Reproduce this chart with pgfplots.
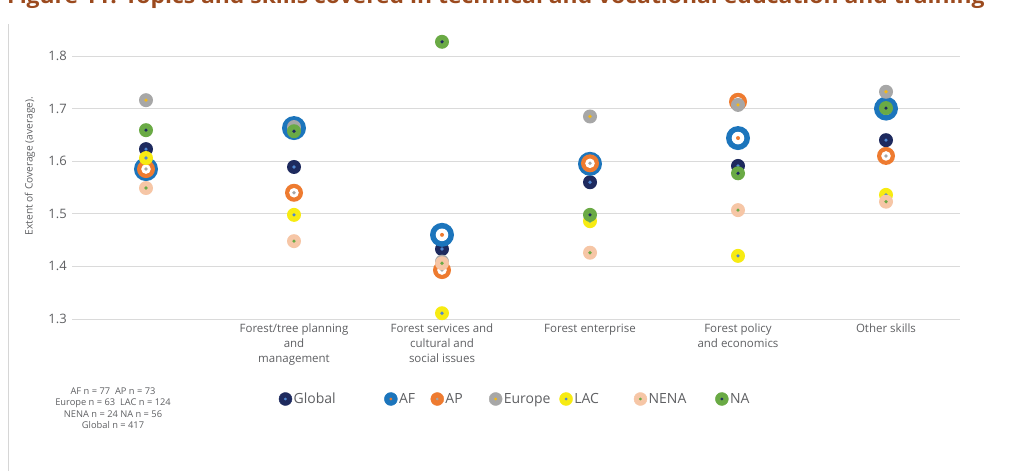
\documentclass[border=0pt]{standalone}
\usepackage{pgfplots}
\pgfplotsset{compat=1.18}
\usepackage{fontspec}
\setmainfont{Open Sans}
\definecolor{cGlobal}{HTML}{1E2A5E}
\definecolor{cAF}{HTML}{1C75BC}
\definecolor{cAP}{HTML}{EE7B30}
\definecolor{cEurope}{HTML}{A7A7A7}
\definecolor{cLAC}{HTML}{F7EB12}
\definecolor{cNENA}{HTML}{F6C6A6}
\definecolor{cNA}{HTML}{6AAA45}
\definecolor{dBlue}{HTML}{4F86D0}
\definecolor{dYellow}{HTML}{F5B914}
\definecolor{gridc}{HTML}{DADADA}
\definecolor{txtc}{HTML}{5E5F62}
\definecolor{titlec}{HTML}{9B4A1E}
\definecolor{bordc}{HTML}{D6D6D6}

\pgfdeclareplotmark{mGlobal}{%
  \pgfpathcircle{\pgfpointorigin}{7pt}\pgfsetfillcolor{cGlobal}\pgfusepathqfill
  \pgfpathcircle{\pgfpointorigin}{1.8pt}\pgfsetfillcolor{dBlue}\pgfusepathqfill}
\pgfdeclareplotmark{mAF}{%
  \pgfpathcircle{\pgfpointorigin}{12pt}\pgfsetfillcolor{cAF}\pgfusepathqfill
  \pgfpathcircle{\pgfpointorigin}{6.3pt}\pgfsetfillcolor{white}\pgfusepathqfill
  \pgfpathcircle{\pgfpointorigin}{2pt}\pgfsetfillcolor{cAP}\pgfusepathqfill}
\pgfdeclareplotmark{mAP}{%
  \pgfpathcircle{\pgfpointorigin}{9pt}\pgfsetfillcolor{cAP}\pgfusepathqfill
  \pgfpathcircle{\pgfpointorigin}{4.8pt}\pgfsetfillcolor{white}\pgfusepathqfill
  \pgfpathcircle{\pgfpointorigin}{1.9pt}\pgfsetfillcolor{cEurope}\pgfusepathqfill}
\pgfdeclareplotmark{mEurope}{%
  \pgfpathcircle{\pgfpointorigin}{7pt}\pgfsetfillcolor{cEurope}\pgfusepathqfill
  \pgfpathcircle{\pgfpointorigin}{1.8pt}\pgfsetfillcolor{dYellow}\pgfusepathqfill}
\pgfdeclareplotmark{mLAC}{%
  \pgfpathcircle{\pgfpointorigin}{7pt}\pgfsetfillcolor{cLAC}\pgfusepathqfill
  \pgfpathcircle{\pgfpointorigin}{1.8pt}\pgfsetfillcolor{dBlue}\pgfusepathqfill}
\pgfdeclareplotmark{mNENA}{%
  \pgfpathcircle{\pgfpointorigin}{7pt}\pgfsetfillcolor{cNENA}\pgfusepathqfill
  \pgfpathcircle{\pgfpointorigin}{1.8pt}\pgfsetfillcolor{cNA}\pgfusepathqfill}
\pgfdeclareplotmark{mNA}{%
  \pgfpathcircle{\pgfpointorigin}{7pt}\pgfsetfillcolor{cNA}\pgfusepathqfill
  \pgfpathcircle{\pgfpointorigin}{1.8pt}\pgfsetfillcolor{cGlobal}\pgfusepathqfill}

\begin{document}
\begin{tikzpicture}
\begin{axis}[
  at={(72pt,152pt)}, anchor=south west,
  scale only axis, width=888pt, height=263pt,
  xmin=-0.5, xmax=5.5, ymin=1.3, ymax=1.8,
  clip=false,
  axis lines=left, axis line style={draw=none},
  major tick length=0pt,
  ytick={1.3,1.4,1.5,1.6,1.7,1.8},
  yticklabels={1.3,1.4,1.5,1.6,1.7,1.8},
  yticklabel style={font=\fontsize{13}{15}\selectfont, text=txtc, anchor=east, inner sep=0pt, xshift=-5pt},
  ymajorgrids, grid style={draw=gridc, line width=0.9pt},
  xtick={0,1,2,3,4,5},
  xticklabels={{}, {Forest/tree planning\\and\\management}, {Forest services and\\cultural and\\social issues}, {Forest enterprise}, {Forest policy\\and economics}, {Other skills}},
  xticklabel style={font=\fontsize{11.5}{15}\selectfont, text=txtc, align=center, anchor=north, inner sep=0pt, yshift=-5pt},
  legend columns=7,
  legend style={draw=none, fill=none, at={(axis description cs:0.2326,-0.3042)}, anchor=west,
    inner sep=0pt, column sep=1.5pt, font=\fontsize{14}{17}\selectfont, text=txtc,
    nodes={inner sep=0pt}, cells={anchor=west}},
]
\addplot[only marks, mark=mGlobal, legend image code/.code={\fill[cGlobal] (0pt,0pt) circle (6.5pt); \fill[dBlue] (0pt,0pt) circle (1.2pt);}]
  table[row sep=\\]{x y\\ 0 1.623\\ 1 1.589\\ 2 1.433\\ 3 1.560\\ 4 1.591\\ 5 1.640\\};
\addlegendentry{\makebox[89pt][l]{Global}}
\addplot[only marks, mark=mAF, legend image code/.code={\fill[cAF] (0pt,0pt) circle (6.5pt); \fill[cAP] (0pt,0pt) circle (1.2pt);}]
  table[row sep=\\]{x y\\ 0 1.585\\ 1 1.663\\ 2 1.460\\ 3 1.595\\ 4 1.644\\ 5 1.700\\};
\addlegendentry{\makebox[30pt][l]{AF}}
\addplot[only marks, mark=mAP, legend image code/.code={\fill[cAP] (0pt,0pt) circle (6.5pt); \fill[cEurope] (0pt,0pt) circle (1.2pt);}]
  table[row sep=\\]{x y\\ 0 1.585\\ 1 1.540\\ 2 1.393\\ 3 1.596\\ 4 1.713\\ 5 1.610\\};
\addlegendentry{\makebox[42pt][l]{AP}}
\addplot[only marks, mark=mEurope, legend image code/.code={\fill[cEurope] (0pt,0pt) circle (6.5pt); \fill[dYellow] (0pt,0pt) circle (1.2pt);}]
  table[row sep=\\]{x y\\ 0 1.716\\ 1 1.665\\ 2 1.409\\ 3 1.685\\ 4 1.707\\ 5 1.732\\};
\addlegendentry{\makebox[54pt][l]{Europe}}
\addplot[only marks, mark=mLAC, legend image code/.code={\fill[cLAC] (0pt,0pt) circle (6.5pt); \fill[dBlue] (0pt,0pt) circle (1.2pt);}]
  table[row sep=\\]{x y\\ 0 1.606\\ 1 1.498\\ 2 1.311\\ 3 1.486\\ 4 1.420\\ 5 1.536\\};
\addlegendentry{\makebox[58pt][l]{LAC}}
\addplot[only marks, mark=mNENA, legend image code/.code={\fill[cNENA] (0pt,0pt) circle (6.5pt); \fill[cNA] (0pt,0pt) circle (1.2pt);}]
  table[row sep=\\]{x y\\ 0 1.549\\ 1 1.448\\ 2 1.406\\ 3 1.426\\ 4 1.507\\ 5 1.523\\};
\addlegendentry{\makebox[65pt][l]{NENA}}
\addplot[only marks, mark=mNA, legend image code/.code={\fill[cNA] (0pt,0pt) circle (6.5pt); \fill[cGlobal] (0pt,0pt) circle (1.2pt);}]
  table[row sep=\\]{x y\\ 0 1.659\\ 1 1.657\\ 2 1.827\\ 3 1.498\\ 4 1.577\\ 5 1.701\\};
\addlegendentry{\makebox[30pt][l]{NA}}
\end{axis}
\draw[bordc, line width=1pt] (8pt,0pt) -- (8pt,447pt);
\node[rotate=90, font=\fontsize{10.2}{12}\selectfont, text=txtc, inner sep=0pt] at (30pt,305pt) {Extent of Coverage (average).};
\node[font=\fontsize{9.3}{11.5}\selectfont, text=txtc, align=center, inner sep=0pt] at (113pt,63pt)
  {AF n = 77\ \ AP n = 73\\Europe n = 63\ \ LAC n = 124\\NENA n = 24 NA n = 56\\Global n = 417};
\node[anchor=base west, text=titlec, inner sep=0pt] at (7pt,467pt)
  {\scalebox{1.09}[1]{\fontsize{21}{24}\selectfont\bfseries Figure 11: Topics and skills covered in technical and vocational education and training}};
\pgfresetboundingbox
\path[use as bounding box] (0pt,0pt) rectangle (1027pt,471pt);
\end{tikzpicture}
\end{document}
